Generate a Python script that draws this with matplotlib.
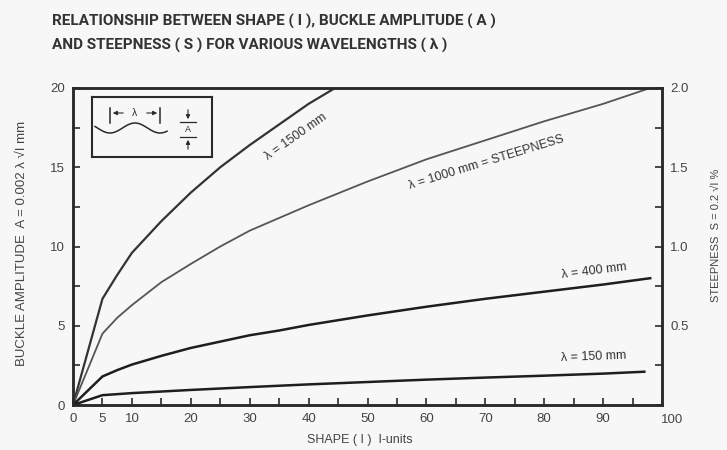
import numpy as np
import matplotlib
matplotlib.use("Agg")
from matplotlib import pyplot as plt
from matplotlib.ticker import MultipleLocator

plt.rcParams["font.family"] = ["Liberation Sans Narrow", "Liberation Sans", "DejaVu Sans"]

# shape I (I-units) and buckle amplitude A (mm)
shape_1500 = [0, 5, 7.5, 10, 15, 20, 25, 30, 35, 40, 44.5]
amp_1500 = [0, 6.7, 8.2, 9.6, 11.6, 13.4, 15.0, 16.4, 17.7, 19.0, 20.0]

shape_1000 = [0, 5, 7.5, 10, 15, 20, 25, 30, 35, 40, 50, 60, 70, 80, 90, 98]
amp_1000 = [0, 4.5, 5.5, 6.3, 7.75, 8.9, 10.0, 11.0, 11.8, 12.6, 14.1, 15.5, 16.7, 17.9, 19.0, 20.0]

shape_400 = [0, 5, 7.5, 10, 15, 20, 25, 30, 35, 40, 50, 60, 70, 80, 90, 98]
amp_400 = [0, 1.8, 2.2, 2.55, 3.1, 3.6, 4.0, 4.4, 4.7, 5.05, 5.65, 6.2, 6.7, 7.15, 7.6, 8.0]

shape_150 = [0, 5, 10, 20, 30, 40, 50, 60, 70, 80, 90, 97]
amp_150 = [0, 0.62, 0.75, 0.95, 1.13, 1.3, 1.45, 1.6, 1.73, 1.85, 1.98, 2.1]

x_ticks = [0, 5, 10, 20, 30, 40, 50, 60, 70, 80, 90, 100]
y_ticks = [0, 5, 10, 15, 20]
s_ticks = [0.5, 1.0, 1.5, 2.0]

BG = "#f7f7f7"
INK = "#2a2a2a"

fig = plt.figure(figsize=(7.27, 4.5), dpi=100, facecolor=BG)
ax = fig.add_axes([73 / 727, 1 - 405 / 450, (662 - 73) / 727, (405 - 88) / 450])
ax.set_facecolor(BG)

ax.plot(shape_1500, amp_1500, color="#333333", lw=1.6)
ax.plot(shape_1000, amp_1000, color="#555555", lw=1.3)
ax.plot(shape_400, amp_400, color="#1e1e1e", lw=1.8)
ax.plot(shape_150, amp_150, color="#1e1e1e", lw=1.8)

ax.set_xlim(0, 100)
ax.set_ylim(0, 20)
ax.set_xticks(x_ticks)
ax.set_xticklabels([str(v) if v != 100 else "" for v in x_ticks])
ax.xaxis.set_minor_locator(MultipleLocator(5))
ax.set_yticks(y_ticks)
ax.yaxis.set_minor_locator(MultipleLocator(2.5))
ax.tick_params(axis="both", which="both", direction="in", length=5, width=1.2,
               colors=INK, labelsize=9.5, labelcolor="#444444")
ax.tick_params(axis="x", pad=6)
ax.tick_params(axis="y", pad=6)
for sp in ax.spines.values():
    sp.set_linewidth(1.8)
    sp.set_color(INK)

# right axis: steepness
ax2 = ax.twinx()
ax2.set_ylim(0, 2)
ax2.set_yticks(s_ticks)
ax2.set_yticklabels(["0.5", "1.0", "1.5", "2.0"])
ax2.yaxis.set_minor_locator(MultipleLocator(0.25))
ax2.tick_params(axis="y", which="both", direction="in", length=5, width=1.2,
                colors=INK, labelsize=9.5, labelcolor="#444444", pad=6)
for sp in ax2.spines.values():
    sp.set_linewidth(1.8)
    sp.set_color(INK)

fig.text(672 / 727, 1 - 420 / 450, "100", ha="center", va="center", fontsize=9.5, color="#444444")

# curve labels
lab = dict(fontsize=9, color="#333333", ha="center", va="center", rotation_mode="anchor")
fig.text(296 / 727, 1 - 137 / 450, "λ = 1500 mm", rotation=35, **lab)
fig.text(486 / 727, 1 - 163 / 450, "λ = 1000 mm = STEEPNESS", rotation=17, **lab)
fig.text(594 / 727, 1 - 271 / 450, "λ = 400 mm", rotation=7, **lab)
fig.text(594 / 727, 1 - 357 / 450, "λ = 150 mm", rotation=2, **lab)

# titles
fig.text(52 / 727, 1 - 14 / 450,
         "RELATIONSHIP BETWEEN SHAPE ( I ), BUCKLE AMPLITUDE ( A )\n"
         "AND STEEPNESS ( S ) FOR VARIOUS WAVELENGTHS ( λ )",
         ha="left", va="top", fontsize=11, fontweight="bold", color="#333333",
         family=["Roboto", "Liberation Sans", "DejaVu Sans"], linespacing=1.75)
fig.text(360 / 727, 1 - 440 / 450, "SHAPE ( I )  I-units", ha="center", va="center",
         fontsize=9, color="#444444")
fig.text(22 / 727, 1 - 243 / 450, "BUCKLE AMPLITUDE  A = 0.002 λ √I mm", rotation=90,
         ha="center", va="center", fontsize=9.5, color="#444444")
fig.text(716 / 727, 1 - 235 / 450, "STEEPNESS  S = 0.2 √I %", rotation=90,
         ha="center", va="center", fontsize=8, color="#444444")

# inset sketch of the wave
ins = fig.add_axes([92 / 727, 1 - 157 / 450, 120 / 727, 60 / 450])
ins.set_facecolor(BG)
ins.set_xlim(92, 212)
ins.set_ylim(157, 97)
ins.set_xticks([])
ins.set_yticks([])
for sp in ins.spines.values():
    sp.set_linewidth(1.5)
    sp.set_color(INK)
wx = np.linspace(95, 167, 80)
wy = 128 + 5 * np.cos((wx - 110) / 50 * 2 * np.pi)
ins.plot(wx, wy, color=INK, lw=1.1)
for px in (110, 160):
    ins.plot([px, px], [108, 123], color=INK, lw=1.1)
ins.annotate("", xy=(110, 113), xytext=(126, 113),
             arrowprops=dict(arrowstyle="-|>", color=INK, lw=0.8, mutation_scale=6))
ins.annotate("", xy=(160, 113), xytext=(144, 113),
             arrowprops=dict(arrowstyle="-|>", color=INK, lw=0.8, mutation_scale=6))
ins.text(135, 113, "λ", ha="center", va="center", fontsize=7.5, color=INK)
ins.plot([180, 196], [122, 122], color=INK, lw=0.9)
ins.plot([180, 196], [137, 137], color=INK, lw=0.9)
ins.annotate("", xy=(188, 122), xytext=(188, 107),
             arrowprops=dict(arrowstyle="-|>", color=INK, lw=0.8, mutation_scale=6))
ins.annotate("", xy=(188, 137), xytext=(188, 152),
             arrowprops=dict(arrowstyle="-|>", color=INK, lw=0.8, mutation_scale=6))
ins.text(188, 129.5, "A", ha="center", va="center", fontsize=6.5, color=INK)

fig.savefig("out.png", dpi=100, facecolor=BG)
